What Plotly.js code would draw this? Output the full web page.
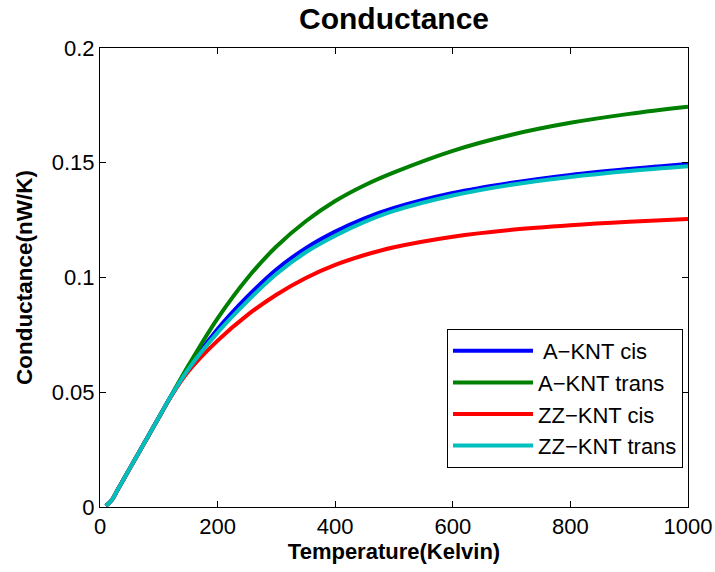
<!DOCTYPE html>
<html>
<head>
<meta charset="utf-8">
<script src="https://cdn.plot.ly/plotly-3.0.1.min.js"></script>
<style>html,body{margin:0;padding:0;background:#fff;}#chart{width:715px;height:572px;}</style>
</head>
<body>
<div id="chart"></div>
<script>
const temperature = [10, 20, 30, 40, 50, 60, 70, 80, 90, 100, 120, 150, 200, 250, 300, 350, 400, 450, 500, 600, 700, 800, 900, 1000];
const aKntCis    = [0.0005, 0.003, 0.0075, 0.012, 0.0165, 0.021, 0.0255, 0.030, 0.0345, 0.039, 0.048, 0.0605, 0.0775, 0.0915, 0.1035, 0.1128, 0.1200, 0.1258, 0.1303, 0.1368, 0.1413, 0.1447, 0.1473, 0.1495];
const aKntTrans  = [0.0005, 0.003, 0.0075, 0.012, 0.0165, 0.021, 0.0255, 0.030, 0.0345, 0.039, 0.048, 0.0615, 0.0822, 0.0995, 0.1135, 0.1245, 0.1333, 0.1402, 0.1458, 0.1552, 0.1622, 0.1674, 0.1713, 0.1744];
const zzKntCis   = [0.0005, 0.003, 0.0075, 0.012, 0.0165, 0.021, 0.0255, 0.030, 0.0345, 0.039, 0.0478, 0.0590, 0.0725, 0.0835, 0.0925, 0.0998, 0.1055, 0.1098, 0.1132, 0.1178, 0.1208, 0.1228, 0.1243, 0.1255];
const zzKntTrans = [0.0005, 0.003, 0.0075, 0.012, 0.0165, 0.021, 0.0255, 0.030, 0.0345, 0.039, 0.048, 0.0600, 0.0760, 0.0895, 0.1015, 0.1110, 0.1182, 0.1242, 0.1290, 0.1357, 0.1404, 0.1438, 0.1464, 0.1485];
const seriesNames = [' A\u2212KNT cis', 'A\u2212KNT trans', 'ZZ\u2212KNT cis', 'ZZ\u2212KNT trans'];
const seriesColors = ['#0000ff', '#008000', '#ff0000', '#00bfbf'];
const seriesValues = [aKntCis, aKntTrans, zzKntCis, zzKntTrans];
const xTicks = [0, 200, 400, 600, 800, 1000];
const yTicks = [0, 0.05, 0.1, 0.15, 0.2];
const yTickText = ['0', '0.05', '0.1', '0.15', '0.2'];

const traces = seriesValues.map((vals, i) => ({
  x: temperature, y: vals, type: 'scatter', mode: 'lines',
  name: seriesNames[i],
  line: {color: seriesColors[i], width: 4, shape: 'spline', smoothing: 1}
}));

const fontFam = 'Liberation Sans, Arial, Helvetica, sans-serif';
const axisCommon = {
  showline: true, mirror: 'ticks', linecolor: '#000', linewidth: 1,
  ticks: 'inside', ticklen: 6, tickcolor: '#000', showgrid: false, zeroline: false,
  tickfont: {family: fontFam, size: 22, color: '#000'}
};
const layout = {
  width: 715, height: 572,
  margin: {l: 100, r: 27, t: 48, b: 65},
  paper_bgcolor: '#fff', plot_bgcolor: '#fff',
  title: {text: '<b>Conductance</b>', font: {family: fontFam, size: 30, color: '#000'}, x: 0.5, xref: 'paper', y: 0.968, yref: 'container', yanchor: 'middle'},
  xaxis: Object.assign({}, axisCommon, {range: [0, 1000], tickvals: xTicks, ticktext: xTicks.map(String),
    title: {text: '<b>Temperature(Kelvin)</b>', font: {family: fontFam, size: 22, color: '#000'}, standoff: 5}}),
  yaxis: Object.assign({}, axisCommon, {range: [0, 0.2], tickvals: yTicks, ticktext: yTickText,
    title: {text: '<b>Conductance(nW/K)</b>', font: {family: fontFam, size: 22.5, color: '#000'}, standoff: 12}}),
  showlegend: true,
  legend: {x: 0.9915, xanchor: 'right', y: 0.085, yanchor: 'bottom', bgcolor: '#fff', bordercolor: '#000', borderwidth: 1,
    font: {family: fontFam, size: 22, color: '#000'}, itemwidth: 80}
};
Plotly.newPlot('chart', traces, layout, {displayModeBar: false, staticPlot: true});
</script>
</body>
</html>
